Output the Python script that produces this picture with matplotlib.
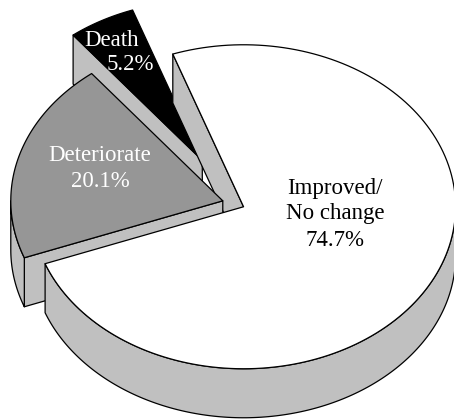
import numpy as np
import matplotlib
matplotlib.use('Agg')
import matplotlib.pyplot as plt
from matplotlib.patches import Polygon

# shares in percent, listed counter-clockwise from the top cut
death_share = 5.2
deteriorate_share = 20.1
improved_share = 74.7

# pie shape in pixels
cx, cy = 233, 203
rx, ry = 212, 162
depth = 49
start_deg = 109.5

side_color = '#c0c0c0'
edge_lw = 0.9

fig = plt.figure(figsize=(4.54, 4.19), dpi=100)
ax = fig.add_axes([0, 0, 1, 1])
ax.set_xlim(0, 454)
ax.set_ylim(419, 0)
ax.axis('off')

plt.rcParams['font.family'] = ['Liberation Serif', 'DejaVu Serif']


def point(apex, deg, r=1.0):
    t = np.radians(deg)
    return np.array([apex[0] + r * rx * np.cos(t), apex[1] - r * ry * np.sin(t)])


def arc(apex, a, b, r=1.0, n=160):
    t = np.radians(np.linspace(a, b, n))
    return np.column_stack([apex[0] + r * rx * np.cos(t), apex[1] - r * ry * np.sin(t)])


def wedge_apex(a, b, explode):
    return point((cx, cy), (a + b) / 2, explode)


def draw(pts, color):
    ax.add_patch(Polygon(pts, closed=True, facecolor=color, edgecolor='black',
                         linewidth=edge_lw, joinstyle='round'))


def draw_top(apex, a, b, color, r=1.0):
    draw(np.vstack([[apex], arc(apex, a, b, r)]), color)


def draw_cut(apex, deg, r=1.0):
    # flat face under a straight edge of a wedge
    p = point(apex, deg, r)
    draw([apex, p, p + [0, depth], np.array(apex) + [0, depth]], side_color)


def draw_rim(apex, a, b):
    # curved outer wall, only the part facing the viewer
    top = arc(apex, a, b)
    draw(np.vstack([top, top[::-1] + [0, depth]]), side_color)


# wedge limits, going counter-clockwise
death_a, death_b = start_deg, start_deg + death_share * 3.6
det_a, det_b = death_b, death_b + deteriorate_share * 3.6
imp_a, imp_b = det_b, det_b + improved_share * 3.6

death_apex = wedge_apex(death_a, death_b, 0.30)
det_apex = wedge_apex(det_a, det_b, 0.05)
imp_apex = wedge_apex(imp_a, imp_b, 0.055)

# the far wedge sits further back, so it is drawn a little smaller
death_r = 0.985

# back to front
draw_cut(death_apex, death_b, death_r)
draw_top(death_apex, death_a, death_b, 'black', death_r)

draw_cut(imp_apex, imp_b)

draw_cut(det_apex, det_b)
draw_rim(det_apex, 180, det_b)
draw_top(det_apex, det_a, det_b, '#969696')

draw_rim(imp_apex, imp_a, 360)
draw_top(imp_apex, imp_a, imp_b, 'white')

# labels
fs = 16.5
ax.text(112, 41, 'Death', color='white', fontsize=fs, ha='center', va='center')
ax.text(130, 65, f'{death_share}%', color='white', fontsize=fs, ha='center', va='center')
ax.text(100, 155, 'Deteriorate', color='white', fontsize=fs, ha='center', va='center')
ax.text(100, 181, f'{deteriorate_share}%', color='white', fontsize=fs, ha='center', va='center')
ax.text(335, 188, 'Improved/', color='black', fontsize=fs, ha='center', va='center')
ax.text(335, 213, 'No change', color='black', fontsize=fs, ha='center', va='center')
ax.text(335, 240, f'{improved_share}%', color='black', fontsize=fs, ha='center', va='center')

fig.savefig('out.png', dpi=100)
